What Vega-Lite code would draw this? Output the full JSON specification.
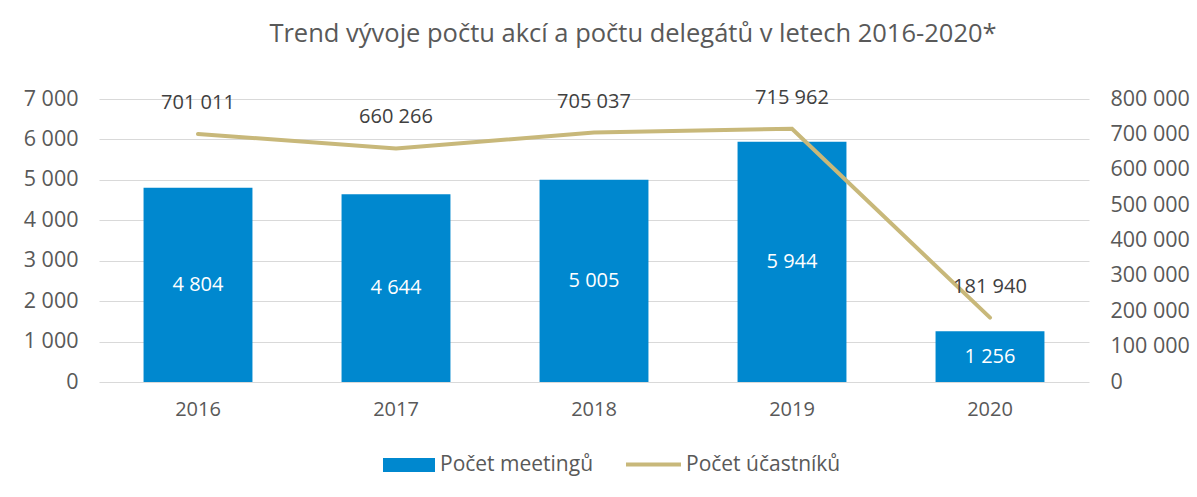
{
  "$schema": "https://vega.github.io/schema/vega-lite/v6.json",
  "autosize": "none",
  "width": 990,
  "height": 283,
  "padding": {"left": 99, "top": 99, "right": 108, "bottom": 115},
  "background": "white",
  "config": {
    "font": "Open Sans",
    "view": {"stroke": null},
    "locale": {"number": {"decimal": ",", "thousands": " ", "grouping": [3], "currency": ["", " Kč"]}},
    "axis": {"labelFont": "Open Sans", "labelColor": "#595959", "labelFontSize": 21.5, "domain": false, "ticks": false, "title": null, "labelOverlap": false}
  },
  "title": {
    "text": "Trend vývoje počtu akcí a  počtu delegátů v letech 2016-2020*",
    "fontSize": 25.5,
    "fontWeight": "normal",
    "color": "#595959",
    "font": "Open Sans",
    "offset": 40,
    "dx": 39
  },
  "data": {
    "values": [
      {"year": "2016", "meetings": 4804, "participants": 701011},
      {"year": "2017", "meetings": 4644, "participants": 660266},
      {"year": "2018", "meetings": 5005, "participants": 705037},
      {"year": "2019", "meetings": 5944, "participants": 715962},
      {"year": "2020", "meetings": 1256, "participants": 181940}
    ]
  },
  "encoding": {
    "x": {
      "field": "year",
      "type": "nominal",
      "scale": {"paddingInner": 0.45, "paddingOuter": 0.225},
      "axis": {"labelAngle": 0, "labelPadding": 17, "grid": false, "labelFontSize": 20}
    }
  },
  "layer": [
    {
      "mark": {"type": "bar", "color": "#0088cf"},
      "encoding": {
        "y": {
          "field": "meetings",
          "type": "quantitative",
          "scale": {"domain": [0, 7000], "nice": false},
          "axis": {"orient": "left", "values": [0, 1000, 2000, 3000, 4000, 5000, 6000, 7000], "format": ",d", "grid": true, "gridColor": "#d9d9d9", "gridWidth": 1, "labelPadding": 21}
        },
        "fill": {
          "datum": "Počet meetingů",
          "scale": {"range": ["#0088cf"]},
          "legend": {
            "orient": "none", "legendX": 284, "legendY": 340, "title": null,
            "symbolType": "M-1,-0.27H1V0.27H-1Z", "symbolSize": 2704, "symbolStrokeWidth": 0,
            "labelFontSize": 21, "labelColor": "#595959", "labelFont": "Open Sans", "labelOffset": 5
          }
        }
      }
    },
    {
      "encoding": {
        "y": {
          "field": "participants",
          "type": "quantitative",
          "scale": {"domain": [0, 800000], "nice": false},
          "axis": {"orient": "right", "values": [0, 100000, 200000, 300000, 400000, 500000, 600000, 700000, 800000], "format": ",d", "grid": false, "labelPadding": 21, "labelOverlap": false, "labelFontSize": 21.5}
        }
      },
      "layer": [
        {
          "mark": {"type": "line", "strokeWidth": 4, "strokeCap": "round"},
          "encoding": {
            "stroke": {
              "datum": "Počet účastníků",
              "scale": {"range": ["#c8b87a"]},
              "legend": {
                "orient": "none", "legendX": 525, "legendY": 336, "title": null,
                "symbolType": "stroke", "symbolSize": 3025, "symbolStrokeWidth": 4,
                "labelFontSize": 21, "labelColor": "#595959", "labelFont": "Open Sans", "labelOffset": 3
              }
            }
          }
        },
        {
          "mark": {"type": "text", "fontSize": 20, "color": "#404040", "dy": -31, "baseline": "middle"},
          "encoding": {
            "text": {"field": "participants", "type": "quantitative", "format": ",d"}
          }
        }
      ]
    },
    {
      "mark": {"type": "text", "fontSize": 20, "color": "white", "baseline": "middle"},
      "encoding": {
        "y": {"field": "meetings", "type": "quantitative", "scale": {"domain": [0, 14000], "nice": false}, "axis": null},
        "text": {"field": "meetings", "type": "quantitative", "format": ",d"}
      }
    }
  ],
  "resolve": {"scale": {"y": "independent", "fill": "independent", "stroke": "independent"}}
}
